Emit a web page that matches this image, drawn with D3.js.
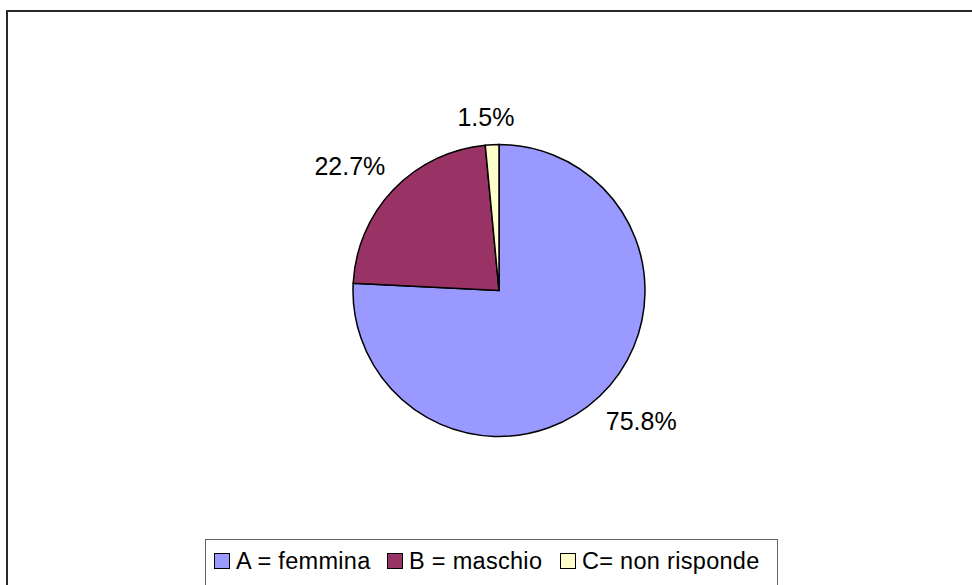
<!DOCTYPE html>
<html>
<head>
<meta charset="utf-8">
<script src="https://cdnjs.cloudflare.com/ajax/libs/d3/7.8.5/d3.min.js"></script>
<style>
  body { margin: 0; background: #fff; }
  svg { display: block; font-family: "Liberation Sans", Arial, sans-serif; }
</style>
</head>
<body>
<svg id="chart" width="972" height="585"></svg>
<script>
// data
var categories = ["A = femmina", "B = maschio", "C= non risponde"];
var percents = [75.8, 22.7, 1.5];
var labels = ["75.8%", "22.7%", "1.5%"];
var colors = ["#9999ff", "#993366", "#ffffcc"];

var svg = d3.select("#chart");

// outer frame (runs off the right and bottom edge)
svg.append("rect")
    .attr("x", 7).attr("y", 11)
    .attr("width", 1000).attr("height", 600)
    .attr("fill", "none")
    .attr("stroke", "#2a2a2a")
    .attr("stroke-width", 2);

var cx = 499, cy = 290.5, radius = 146;

var pie = d3.pie().sort(null).value(function(d) { return d; });
var arcs = pie(percents);
var arc = d3.arc().innerRadius(0).outerRadius(radius);

var g = svg.append("g").attr("transform", "translate(" + cx + "," + cy + ")");

g.selectAll("path.slice")
    .data(arcs)
    .enter().append("path")
    .attr("class", "slice")
    .attr("d", arc)
    .attr("fill", function(d, i) { return colors[i]; })
    .attr("stroke", "#000")
    .attr("stroke-width", 1.5)
    .attr("stroke-linejoin", "miter");

// labels outside the pie, box edge pushed out along the mid angle
g.selectAll("text.pct")
    .data(arcs)
    .enter().append("text")
    .attr("class", "pct")
    .attr("font-size", 25)
    .attr("fill", "#000")
    .attr("text-anchor", "middle")
    .text(function(d, i) { return labels[i]; })
    .each(function(d) {
        var a = (d.startAngle + d.endAngle) / 2;
        // thin slices sit a little closer in
        var labelR = radius + (d.endAngle - d.startAngle < 0.2 ? 19 : 25);
        var w = this.getComputedTextLength();
        var h = 18;
        var x = Math.sin(a) * labelR + Math.sin(a) * w / 2 - (d.endAngle - d.startAngle < 0.2 ? 4 : 0);
        var y = -Math.cos(a) * labelR - Math.cos(a) * h / 2;
        d3.select(this).attr("x", x).attr("y", y + h / 2);
    });

// legend
var legend = svg.append("g");
legend.append("rect")
    .attr("x", 205.5).attr("y", 539.5)
    .attr("width", 572).attr("height", 46)
    .attr("fill", "#fff")
    .attr("stroke", "#666")
    .attr("stroke-width", 1);

var itemX = [214, 387, 560];
var items = legend.selectAll("g.item")
    .data(categories)
    .enter().append("g")
    .attr("class", "item")
    .attr("transform", function(d, i) { return "translate(" + itemX[i] + ",0)"; });

items.append("rect")
    .attr("x", 0.5).attr("y", 553.5)
    .attr("width", 15).attr("height", 15)
    .attr("fill", function(d, i) { return colors[i]; })
    .attr("stroke", "#000")
    .attr("stroke-width", 1);

items.append("text")
    .attr("x", 22)
    .attr("y", 568.5)
    .attr("font-size", 23.5)
    .attr("letter-spacing", 0.3)
    .attr("fill", "#000")
    .text(function(d) { return d; });
</script>
</body>
</html>
